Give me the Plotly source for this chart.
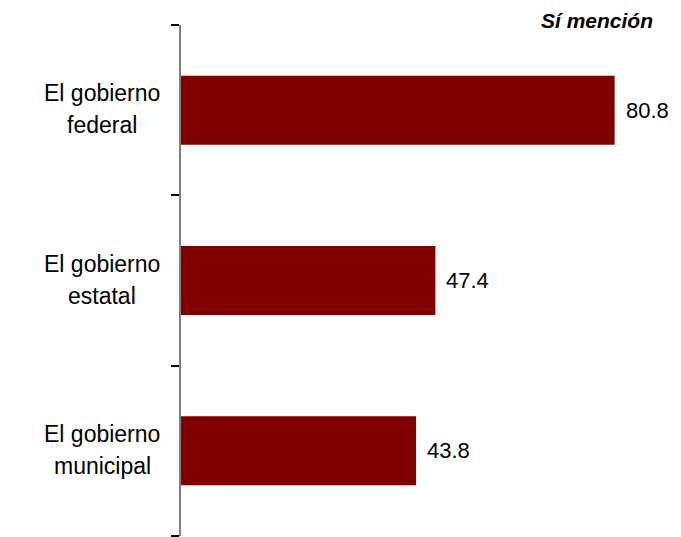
import plotly.graph_objects as go

categories = ["El gobierno<br>federal", "El gobierno<br>estatal", "El gobierno<br>municipal"]
values = [80.8, 47.4, 43.8]
value_labels = ["80.8", "47.4", "43.8"]
legend_title = "Sí mención"

BAR_COLOR = "#800000"
FONT = "Liberation Sans, Arial, sans-serif"

positions = list(range(len(categories)))

# page body has an 8px default margin; compensate so the chart lands where intended
W, H = 673, 529
L, R, T, B = 173, 17, 17, 1
pw, ph = W - L - R, H - T - B

fig = go.Figure()
fig.add_trace(go.Bar(
    x=values, y=positions, orientation="h",
    marker=dict(color=BAR_COLOR, line=dict(width=0)),
    width=0.405, hoverinfo="skip", showlegend=False,
))

annotations = []
for pos, cat, val, lab in zip(positions, categories, values, value_labels):
    lines = cat.split("<br>")
    n = len(lines)
    for i, line in enumerate(lines):
        annotations.append(dict(
            x=0, y=pos, xref="x", yref="y", text=line, showarrow=False,
            xanchor="center", yanchor="middle", xshift=-79,
            yshift=(n - 1) * 16 - i * 32 + 1,
            font=dict(family=FONT, size=23, color="#000000"),
        ))
    annotations.append(dict(
        x=val, y=pos, xref="x", yref="y", text=lab, showarrow=False,
        xanchor="left", yanchor="middle", xshift=9,
        font=dict(family=FONT, size=22, color="#000000"),
    ))

# title "Sí mención" at pixel (right edge 655, centre y 20) in page coords
annotations.append(dict(
    x=(655 - 8 - L) / pw, y=1 + (T - (20 - 8)) / ph, xref="paper", yref="paper",
    text="<b><i>" + legend_title + "</i></b>",
    showarrow=False, xanchor="right", yanchor="middle",
    font=dict(family=FONT, size=21, color="#000000"),
))

fig.update_layout(
    width=W, height=H,
    margin=dict(l=L, r=R, t=T, b=B, pad=0),
    paper_bgcolor="white", plot_bgcolor="white",
    xaxis=dict(range=[0, 90], visible=False, fixedrange=True),
    yaxis=dict(
        range=[len(categories) - 0.5, -0.5],
        tickmode="array",
        tickvals=[p - 0.5 for p in positions] + [len(categories) - 0.5],
        ticktext=["" for _ in range(len(categories) + 1)],
        ticks="outside", ticklen=8, tickcolor="#000000", tickwidth=1.5,
        showline=True, linecolor="#7f7f7f", linewidth=1.5,
        showgrid=False, zeroline=False,
    ),
    annotations=annotations,
    showlegend=False,
)

fig.write_html("out.html")
